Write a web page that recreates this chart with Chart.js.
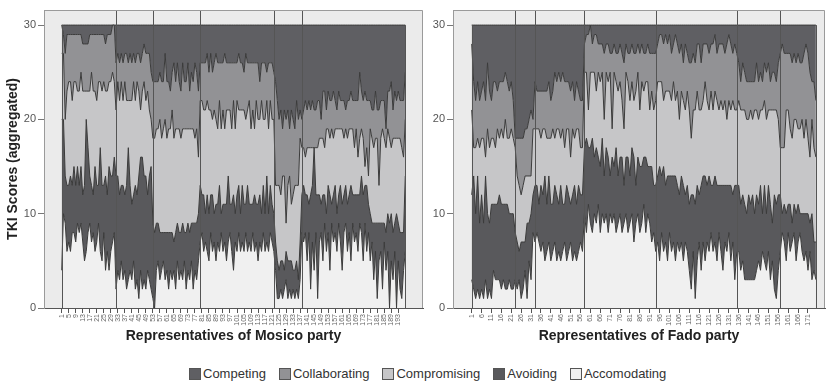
<!DOCTYPE html>
<html>
<head>
<meta charset="utf-8">
<script src="https://cdn.jsdelivr.net/npm/chart.js@4.4.0/dist/chart.umd.min.js"></script>
<style>
  body { margin: 0; background: #fff; font-family: "Liberation Sans", Arial, sans-serif; }
  #wrap { position: relative; width: 827px; height: 384px; overflow: hidden; }
  canvas { position: absolute; top: 0; }
  #mosico { left: 0; }
  #fado { left: 430px; }
  #legend { position: absolute; left: 189px; top: 366px; display: flex; align-items: center; font-size: 13px; color: #333; }
  .item { display: flex; align-items: center; margin-right: 13px; }
  .box { width: 10px; height: 10px; border: 1px solid #555; margin-right: 2px; }
</style>
</head>
<body>
<div id="wrap">
  <canvas id="mosico" width="430" height="345"></canvas>
  <canvas id="fado" width="397" height="345"></canvas>
  <div id="legend"></div>
</div>
<script>
// legend order (top of stack first)
const styleNames = ['Competing', 'Collaborating', 'Compromising', 'Avoiding', 'Accomodating'];
const styleColors = ['#5f5f63', '#929295', '#c6c6c8', '#59595c', '#f0f0f0'];

const yTicks = [0, 10, 20, 30];

// Mosico party: representatives 1..197
const mosicoTicks = [1,5,9,13,17,21,25,29,33,37,41,45,49,53,57,61,65,69,73,77,81,85,89,93,97,101,105,109,113,117,121,125,129,133,137,141,145,149,153,157,161,165,169,173,177,181,185,189,193];
const mosicoGroupStarts = [32, 53, 80, 122, 138];

const mosicoAccomodating = [
  4,10,9,6,7,6,8,8,7,9,8,9,7,5,6,8,9,7,8,6,7,9,6,5,8,4,6,4,6,7,8,
  2,4,3,5,3,4,2,3,4,3,5,2,3,1,4,2,3,2,4,3,2,
  1,0,4,5,3,4,5,3,4,2,4,3,4,2,5,3,4,3,5,2,4,3,5,2,4,3,5,
  7,8,6,7,6,5,8,6,7,5,7,6,8,6,7,5,7,8,6,4,7,6,8,6,7,6,8,6,7,6,8,6,7,5,7,6,8,6,7,6,8,7,6,
  4,1,1,2,1,2,3,1,2,1,2,1,2,1,3,
  8,7,8,5,8,2,7,4,8,1,7,8,5,9,6,8,4,9,7,8,6,9,7,4,8,9,6,8,5,9,7,8,6,9,8,5,9,6,8,5,7,3,6,1,5,6,2,7,4,6,0,5,3,6,0,5,2,1,4,6
];
const mosicoAvoiding = [
  16,10,5,7,6,8,5,7,6,6,5,6,5,8,14,9,5,6,4,9,6,4,11,8,5,10,6,11,8,7,8,
  12,10,9,8,10,8,11,14,9,8,7,11,9,13,12,14,11,12,8,11,13,
  8,8,5,4,5,4,3,5,4,6,4,5,3,6,4,5,4,6,3,6,5,5,4,7,5,6,5,
  6,4,6,3,6,5,4,6,3,6,4,7,2,5,4,6,7,3,5,8,3,6,5,4,6,5,3,7,4,5,3,6,4,6,5,4,5,4,7,4,5,4,4,
  3,4,3,3,4,2,3,4,3,4,2,3,3,2,4,
  4,6,4,7,3,10,6,13,4,11,5,3,7,3,4,5,8,2,5,5,4,3,6,7,4,4,5,4,8,3,5,4,6,3,6,7,4,7,3,5,2,6,3,8,4,3,7,2,4,4,9,5,5,3,10,4,6,7,4,8
];
const mosicoCompromising = [
  7,7,6,10,11,10,9,9,11,8,10,10,11,10,3,6,9,12,11,8,9,11,7,10,11,9,11,9,10,11,8,
  7,10,10,11,9,12,9,5,9,11,12,9,12,9,5,7,10,8,11,7,5,
  9,10,10,10,12,10,11,12,10,11,11,13,11,11,10,11,10,10,11,11,10,11,10,10,9,10,6,
  9,10,9,11,10,11,9,8,11,9,8,9,9,10,8,10,7,10,8,10,9,10,8,11,8,10,9,8,11,8,10,7,11,9,8,12,7,10,8,9,9,9,10,
  6,8,9,7,9,10,3,8,9,6,8,9,8,10,11,
  5,4,4,5,6,5,4,0,5,5,6,7,6,5,9,6,6,8,6,6,9,7,6,8,6,6,7,7,6,7,5,7,4,6,5,6,2,4,3,9,9,8,9,9,4,9,10,9,9,9,9,7,10,9,8,9,10,9,8,6
];
const mosicoCollaborating = [
  3,2,7,6,5,5,7,5,5,6,6,4,5,5,5,5,6,4,6,6,7,5,5,6,5,5,6,5,5,5,6,
  5,3,4,3,4,3,5,4,5,4,3,4,3,4,5,4,4,5,4,6,5,
  6,6,5,5,5,6,5,7,6,5,4,4,8,5,7,5,5,7,5,5,7,4,6,5,8,6,7,
  4,4,5,5,5,4,6,5,5,7,7,4,7,5,8,5,5,5,7,4,7,4,6,5,5,4,7,5,4,7,5,7,4,6,4,4,6,6,3,7,4,6,5,
  11,9,7,9,5,7,11,8,5,10,8,6,9,7,3,
  3,4,6,4,5,4,5,4,4,5,4,2,5,6,2,4,4,3,5,3,2,4,3,3,4,2,4,3,4,3,5,3,6,7,4,4,8,5,8,3,3,4,5,3,8,4,3,4,2,4,5,7,3,5,4,5,4,5,6,5
];
const mosicoCompeting = [
  0,1,3,1,1,1,1,1,1,1,1,1,2,2,2,2,1,1,1,1,1,1,1,1,1,2,1,1,1,0,0,
  4,3,4,3,4,3,3,4,3,4,3,4,3,3,4,3,2,3,3,3,5,
  6,6,6,6,5,6,6,3,6,6,7,5,4,6,4,6,7,4,6,6,4,7,5,6,4,5,7,
  4,4,4,4,3,5,3,5,4,3,4,4,4,4,3,4,4,4,4,4,4,4,3,4,4,5,3,4,4,4,4,4,4,4,6,4,4,4,5,4,4,4,5,
  6,8,10,9,11,9,10,9,11,9,10,11,8,10,9,
  10,9,8,9,8,9,8,9,9,8,8,10,7,7,9,7,8,8,7,8,9,7,8,8,8,9,8,8,7,8,8,8,8,5,7,8,7,8,8,8,9,9,7,9,9,8,8,8,11,7,7,6,9,7,8,7,8,8,8,5
];

// Fado party: representatives 1..175
const fadoTicks = [1,6,11,16,21,26,31,36,41,46,51,56,61,66,71,76,81,86,91,96,101,106,111,116,121,126,131,136,141,146,151,156,161,166,171];
const fadoGroupStarts = [23, 33, 58, 94, 135, 157];

const fadoAccomodating = [
  3,2,1,2,1,2,1,3,1,2,1,4,3,3,3,2,3,2,2,3,2,2,
  3,2,3,1,2,4,1,5,3,8,
  7,8,7,6,7,5,6,7,5,6,7,5,6,5,6,7,5,6,7,5,6,5,6,7,6,
  10,8,11,9,8,10,9,11,8,10,9,10,8,10,9,10,8,9,10,8,9,10,8,9,10,7,9,10,8,9,11,8,10,9,7,8,6,
  7,5,8,6,7,5,8,6,7,5,7,6,7,5,7,6,4,2,6,1,5,7,4,7,5,7,6,8,6,7,5,8,6,4,7,6,8,5,7,3,6,
  6,4,5,3,3,3,3,3,3,4,5,4,6,5,4,6,3,5,2,1,4,
  6,8,7,5,8,6,7,8,5,7,8,6,5,6,4,6,3,4,3
];
const fadoAvoiding = [
  9,12,9,12,8,10,8,11,9,7,10,7,8,8,9,9,8,9,9,7,8,8,
  5,5,3,6,5,3,8,4,7,4,
  6,5,4,7,5,9,5,7,6,5,6,7,5,8,5,4,8,6,4,7,7,6,7,5,6,
  7,10,6,8,10,6,8,5,7,8,5,7,8,4,7,5,9,5,6,8,4,6,8,5,7,9,4,6,7,6,5,8,5,6,8,5,7,
  7,10,6,9,6,9,6,8,7,9,6,6,7,8,5,7,7,10,6,10,8,5,9,7,9,6,8,5,7,7,8,5,7,9,6,7,5,8,5,10,7,
  7,7,7,8,7,9,8,9,7,8,6,9,4,8,6,7,8,4,10,10,8,
  6,2,4,5,3,5,2,3,5,4,2,4,5,4,6,3,7,3,4
];
const fadoCompromising = [
  9,3,7,4,8,6,9,2,9,8,7,7,6,8,6,8,7,9,7,8,9,8,
  9,7,7,5,6,7,5,5,4,7,
  6,6,8,5,7,5,7,4,7,8,5,7,8,5,8,6,6,7,5,7,5,8,6,5,5,
  8,7,4,8,7,9,6,9,9,7,6,8,8,11,3,10,7,9,8,6,6,9,8,8,7,6,10,9,6,9,7,8,9,6,8,8,9,
  10,9,10,7,10,9,9,8,10,8,10,8,9,9,9,10,10,6,9,10,10,9,8,8,10,9,7,10,8,9,9,8,9,8,9,7,9,8,10,8,8,
  9,10,9,10,10,8,10,8,11,9,9,8,11,9,10,8,10,12,9,10,8,
  5,7,6,11,10,8,9,9,10,8,9,10,8,10,8,7,10,10,9
];
const fadoCollaborating = [
  7,7,5,6,5,5,6,6,7,6,4,6,7,4,6,5,6,5,6,5,5,4,
  1,4,5,6,5,5,5,6,7,1,
  5,4,4,5,4,4,5,6,4,4,7,5,6,6,6,7,5,5,7,5,4,5,4,5,5,
  3,4,8,5,3,4,6,3,4,3,7,3,4,2,8,3,3,4,4,5,7,3,3,5,4,5,4,3,6,4,4,3,4,6,4,6,5,
  4,5,5,6,6,5,6,5,4,7,5,7,5,4,7,4,5,8,6,5,5,7,5,6,4,6,6,5,7,6,5,7,6,7,5,8,7,7,5,7,6,
  4,3,5,4,4,4,3,4,3,5,4,4,3,4,5,5,3,4,4,3,6,
  10,11,10,6,6,8,8,7,6,8,7,6,9,8,9,9,4,7,6
];
const fadoCompeting = [
  2,6,8,6,8,7,6,8,4,7,8,6,6,7,6,6,6,5,6,7,6,8,
  12,12,12,12,12,11,11,10,9,10,
  6,7,7,7,7,7,7,6,8,7,5,6,5,6,5,6,6,6,7,6,8,6,7,8,8,
  2,1,1,0,2,1,1,2,2,2,3,2,2,3,3,2,3,3,2,3,4,2,3,3,2,3,3,2,3,2,3,3,2,3,3,3,3,
  2,1,1,2,1,2,1,3,2,1,2,3,2,4,2,3,4,4,3,4,2,2,4,2,2,2,3,2,2,1,3,2,2,2,3,2,1,2,3,2,3,
  4,6,4,5,6,6,6,6,6,4,6,5,6,4,5,4,6,5,5,6,4,
  3,2,3,3,3,3,4,3,4,3,4,4,3,2,3,5,6,6,8
];

// background, frame, group separators and the area's outer edges
const panelFrame = {
  id: 'panelFrame',
  beforeDraw(chart) {
    const { ctx, chartArea: a } = chart;
    ctx.save();
    ctx.fillStyle = '#ebebeb';
    ctx.fillRect(a.left, a.top, a.right - a.left, a.bottom - a.top);
    ctx.restore();
  },
  afterDatasetsDraw(chart, args, opts) {
    const { ctx, chartArea: a, scales } = chart;
    const x = scales.x, y = scales.y;
    ctx.save();
    ctx.lineWidth = 1;
    ctx.strokeStyle = '#555';
    ctx.beginPath();
    opts.groupStarts.forEach(v => {
      const px = Math.round(x.getPixelForValue(v)) + 0.5;
      ctx.moveTo(px, a.top);
      ctx.lineTo(px, a.bottom);
    });
    [1, opts.count].forEach(v => {
      const px = Math.round(x.getPixelForValue(v)) + 0.5;
      ctx.moveTo(px, y.getPixelForValue(30));
      ctx.lineTo(px, y.getPixelForValue(0));
    });
    ctx.stroke();
    ctx.strokeStyle = '#9a9a9a';
    ctx.beginPath();
    ctx.moveTo(a.left + 0.5, a.bottom);
    ctx.lineTo(a.left + 0.5, a.top + 0.5);
    ctx.lineTo(a.right - 0.5, a.top + 0.5);
    ctx.lineTo(a.right - 0.5, a.bottom);
    ctx.stroke();
    ctx.restore();
  }
};

function makeDatasets(competing, collaborating, compromising, avoiding, accomodating) {
  const bySeries = [competing, collaborating, compromising, avoiding, accomodating];
  // stack from the bottom: Accomodating first
  return [4, 3, 2, 1, 0].map((k, i) => ({
    label: styleNames[k],
    data: bySeries[k].map((v, j) => ({ x: j + 1, y: v })),
    backgroundColor: styleColors[k],
    borderColor: '#3b3b3b',
    borderWidth: 1,
    pointRadius: 0,
    tension: 0,
    fill: i === 0 ? 'origin' : '-1'
  }));
}

function makeChart(canvas, datasets, opt) {
  return new Chart(canvas, {
    type: 'line',
    data: { datasets },
    plugins: [panelFrame],
    options: {
      responsive: false,
      animation: false,
      devicePixelRatio: 1,
      layout: { padding: { left: 0, top: 10, right: opt.padRight, bottom: 0 } },
      plugins: {
        legend: { display: false },
        tooltip: { enabled: false },
        panelFrame: { groupStarts: opt.groupStarts, count: opt.count }
      },
      scales: {
        x: {
          type: 'linear',
          min: opt.xMin,
          max: opt.xMax,
          afterBuildTicks: s => { s.ticks = opt.ticks.map(v => ({ value: v })); },
          afterFit: s => { s.height = 37; },
          grid: { drawOnChartArea: false, tickLength: 5, tickColor: '#555' },
          border: { color: '#555' },
          ticks: { autoSkip: false, minRotation: 90, maxRotation: 90, padding: 1, color: '#666', font: { size: 7 } },
          title: { display: true, text: opt.xTitle, color: '#222', padding: 0, font: { size: 14, weight: 'bold', family: '"Liberation Sans", Arial' } }
        },
        y: {
          stacked: true,
          min: 0,
          max: 31.6,
          afterBuildTicks: s => { s.ticks = yTicks.map(v => ({ value: v })); },
          afterFit: s => { s.width = opt.yWidth; },
          grid: { drawOnChartArea: false, tickLength: 6, tickColor: '#777' },
          border: { color: '#9a9a9a' },
          ticks: { padding: 2, color: '#555', font: { size: 11 } },
          title: { display: !!opt.yTitle, text: opt.yTitle || '', color: '#222', padding: { top: 5, bottom: 0 }, font: { size: 14, weight: 'bold', family: '"Liberation Sans", Arial' } }
        }
      }
    }
  });
}

Chart.defaults.font.family = '"Liberation Sans", Arial, sans-serif';

makeChart(document.getElementById('mosico'),
  makeDatasets(mosicoCompeting, mosicoCollaborating, mosicoCompromising, mosicoAvoiding, mosicoAccomodating),
  { ticks: mosicoTicks, groupStarts: mosicoGroupStarts, count: mosicoAccomodating.length,
    xMin: -9.1, xMax: 207.1, padRight: 7, yWidth: 44,
    xTitle: 'Representatives of Mosico party', yTitle: 'TKI Scores (aggregated)' });

makeChart(document.getElementById('fado'),
  makeDatasets(fadoCompeting, fadoCollaborating, fadoCompromising, fadoAvoiding, fadoAccomodating),
  { ticks: fadoTicks, groupStarts: fadoGroupStarts, count: fadoAccomodating.length,
    xMin: -8.45, xMax: 179.6, padRight: 2, yWidth: 23,
    xTitle: 'Representatives of Fado party' });

// legend
const legend = document.getElementById('legend');
styleNames.forEach((name, i) => {
  const item = document.createElement('div');
  item.className = 'item';
  const box = document.createElement('span');
  box.className = 'box';
  box.style.background = styleColors[i];
  const label = document.createElement('span');
  label.textContent = name;
  item.appendChild(box);
  item.appendChild(label);
  legend.appendChild(item);
});
</script>
</body>
</html>
